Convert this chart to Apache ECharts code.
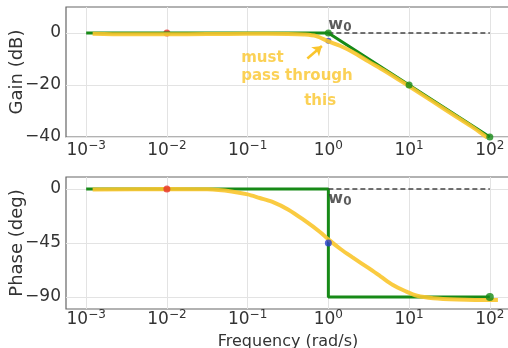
<!DOCTYPE html>
<html>
<head>
<meta charset="utf-8">
<script src="https://cdn.jsdelivr.net/npm/echarts@6/dist/echarts.min.js"></script>
<style>
  html, body { margin: 0; padding: 0; background: #fff; }
  #chart { width: 508px; height: 348px; }
</style>
</head>
<body>
<div id="chart"></div>
<script>
// x values are log10 of frequency (rad/s)
const decades = [-3, -2, -1, 0, 1, 2];
const gainTicks = [-40, -20, 0];
const phaseTicks = [-90, -45, 0];

// straight-line (asymptotic) approximation
const asymGainX = [-3, 0, 2];
const asymGain = [0, 0, -40];
const asymPhaseX = [-3, 0, 0, 2];
const asymPhase = [0, 0, -90, -90];

// hand-drawn yellow sketch
const sketchGainX = [-2.92, -2.5, -2, -1.5, -1, -0.5, -0.3, -0.15, 0, 0.15, 0.3, 0.5, 0.7, 1.0, 1.3, 1.6, 1.8, 1.97];
const sketchGain = [-0.3, -0.5, -0.5, -0.4, -0.3, -0.4, -0.6, -1.2, -3.2, -5, -7.3, -11, -14.6, -20.5, -26.5, -32.5, -36.5, -40.3];
const sketchPhaseX = [-2.92, -2, -1.5, -1.2, -1, -0.85, -0.7, -0.5, -0.3, -0.1, 0, 0.15, 0.3, 0.5, 0.65, 0.8, 0.95, 1.1, 1.3, 1.6, 2.0, 2.1];
const sketchPhase = [-0.5, 0, -0.3, -2, -4.5, -7.5, -10.5, -17, -26, -36, -42, -50, -57, -66, -73, -80, -85, -89, -91, -92, -92.5, -92.5];

// dashed reference from w0 onward
const refX = [0, 2];
const refY = [0, 0];

// marked points
const redGain = [[-2, 0]];
const blueGain = [[0, -3]];
const greenGain = [[0, 0], [1, -20], [2, -40]];
const redPhase = [[-2, 0]];
const bluePhase = [[0, -45]];
const greenPhase = [[2, -90]];

// handwritten note (log10 freq, dB)
const noteLines = ['must', 'pass through', 'this'];
const notePos = [[-1.08, -9.8], [-1.08, -16.6], [-0.3, -26.2]];
const arrowFrom = [-0.26, -9.8];
const arrowTo = [-0.08, -5.0];

const GREEN = '#178a17';
const YELLOW = '#fac52c';
const TXT = '#333';

const expText = v => String(v).replace('-', '\u2212');

const pairs = (xs, ys) => xs.map((x, i) => [x, ys[i]]);

function xAxisFor(idx, withName, margin) {
  return {
    type: 'value', gridIndex: idx, min: -3.25, max: 2.25,
    axisLine: { show: false },
    axisTick: { show: false, customValues: decades },
    axisLabel: {
      customValues: decades,
      formatter: v => '{b|10}{e|' + expText(v) + '}',
      margin: margin,
      rich: {
        b: { fontSize: 17, lineHeight: 22, color: TXT, fontFamily: 'DejaVu Sans' },
        e: { fontSize: 12, lineHeight: 12, verticalAlign: 'top', color: TXT, fontFamily: 'DejaVu Sans' }
      }
    },
    splitLine: { show: true, lineStyle: { color: '#e3e3e3', width: 1 } },
    name: withName ? 'Frequency (rad/s)' : '',
    nameLocation: 'middle', nameGap: 25, nameMoveOverlap: false,
    nameTextStyle: { color: TXT, fontSize: 16, fontFamily: 'DejaVu Sans' }
  };
}

function yAxisFor(idx, min, max, ticks, name) {
  return {
    type: 'value', gridIndex: idx, min: min, max: max,
    axisLine: { show: false },
    axisTick: { show: false, customValues: ticks },
    axisLabel: {
      customValues: ticks, formatter: v => expText(v),
      color: TXT, fontSize: 17, fontFamily: 'DejaVu Sans', margin: 5
    },
    splitLine: { show: true, lineStyle: { color: '#e3e3e3', width: 1 } },
    name: name, nameLocation: 'middle', nameGap: 40, nameMoveOverlap: false,
    nameTextStyle: { color: TXT, fontSize: 18, fontFamily: 'DejaVu Sans' }
  };
}

function dots(idx, data, color, size, z) {
  return {
    type: 'scatter', xAxisIndex: idx, yAxisIndex: idx, data: data,
    symbolSize: size, itemStyle: { color: color }, z: z, silent: true
  };
}

function w0Label(idx, offsetY) {
  return {
    type: 'scatter', xAxisIndex: idx, yAxisIndex: idx, data: [[0, 0]],
    symbolSize: 0, z: 20, silent: true,
    label: {
      show: true, position: 'right', distance: 0, offset: [0, offsetY],
      formatter: '{w|w}{s|0}',
      rich: {
        w: { fontSize: 16, fontWeight: 'bold', color: TXT, fontFamily: 'DejaVu Sans' },
        s: { fontSize: 12, fontWeight: 'bold', color: TXT, fontFamily: 'DejaVu Sans', padding: [6, 0, 0, 0] }
      }
    }
  };
}

const chart = echarts.init(document.getElementById('chart'), null, { renderer: 'canvas' });

const gridBase = { left: 66, width: 444, show: true, borderColor: '#666', borderWidth: 1.2, outerBoundsMode: 'none', containLabel: false };

const option = {
  animation: false,
  backgroundColor: '#fff',
  grid: [
    Object.assign({ top: 7, height: 130 }, gridBase),
    Object.assign({ top: 177, height: 132 }, gridBase)
  ],
  xAxis: [xAxisFor(0, false, 3), xAxisFor(1, true, 0)],
  yAxis: [
    yAxisFor(0, -40, 10, gainTicks, 'Gain (dB)'),
    yAxisFor(1, -100, 10, phaseTicks, 'Phase (deg)')
  ],
  series: [
    // gain panel
    dots(0, redGain, '#e8302a', 7, 2),
    {
      type: 'line', xAxisIndex: 0, yAxisIndex: 0, data: pairs(asymGainX, asymGain),
      showSymbol: false, lineStyle: { color: GREEN, width: 3 }, z: 3, silent: true
    },
    {
      type: 'line', xAxisIndex: 0, yAxisIndex: 0, data: pairs(refX, refY),
      showSymbol: false, lineStyle: { color: '#444', width: 1.5, type: [5, 3] }, z: 4, silent: true
    },
    dots(0, blueGain, '#2a3fd0', 6, 4),
    {
      type: 'line', xAxisIndex: 0, yAxisIndex: 0, data: pairs(sketchGainX, sketchGain),
      showSymbol: false, smooth: 0.3, lineStyle: { color: YELLOW, width: 4, opacity: 0.9 }, z: 5, silent: true
    },
    dots(0, greenGain, GREEN, 7, 6),
    w0Label(0, -8),
    {
      type: 'scatter', xAxisIndex: 0, yAxisIndex: 0,
      data: notePos.map((p, i) => ({ value: p, name: noteLines[i] })),
      symbolSize: 0, z: 10, silent: true,
      label: {
        show: true, position: 'right', distance: 0, formatter: '{b}',
        color: YELLOW, fontSize: 15, fontWeight: 'bold', fontFamily: 'DejaVu Sans'
      },
      markLine: {
        silent: true, symbol: ['none', 'arrow'], symbolSize: 9,
        label: { show: false },
        lineStyle: { color: YELLOW, width: 2.5, type: 'solid', curveness: -0.2 },
        data: [[{ coord: arrowFrom }, { coord: arrowTo }]]
      }
    },
    // phase panel
    {
      type: 'line', xAxisIndex: 1, yAxisIndex: 1, data: pairs(asymPhaseX, asymPhase),
      showSymbol: false, lineStyle: { color: GREEN, width: 3 }, z: 3, silent: true
    },
    {
      type: 'line', xAxisIndex: 1, yAxisIndex: 1, data: pairs(refX, refY),
      showSymbol: false, lineStyle: { color: '#444', width: 1.5, type: [5, 3] }, z: 4, silent: true
    },
    {
      type: 'line', xAxisIndex: 1, yAxisIndex: 1, data: pairs(sketchPhaseX, sketchPhase),
      showSymbol: false, smooth: 0.3, lineStyle: { color: YELLOW, width: 4, opacity: 0.9 }, z: 5, silent: true
    },
    dots(1, redPhase, '#e8302a', 7, 6),
    dots(1, bluePhase, '#2a3fd0', 7, 6),
    dots(1, greenPhase, GREEN, 8, 6),
    w0Label(1, 10)
  ]
};

chart.setOption(option);
</script>
</body>
</html>
